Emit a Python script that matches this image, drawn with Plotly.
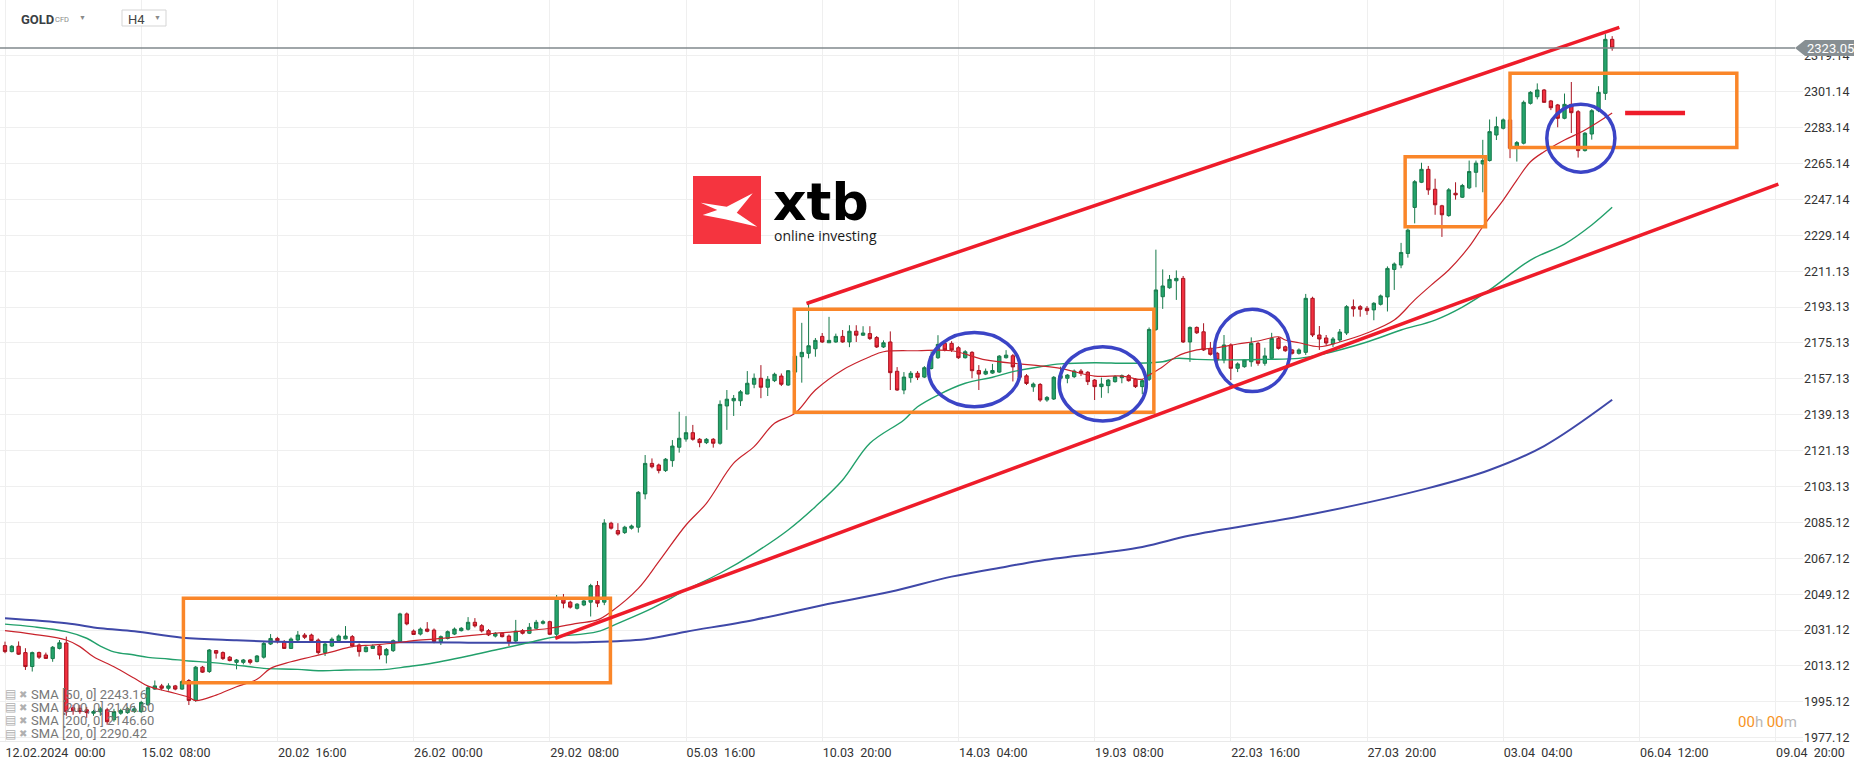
import plotly.graph_objects as go

# ---------------- data (H4 candles, GOLD CFD) ----------------
opens = [2023.3,2020.3,2023.0,2019.8,2012.8,2019.8,2018.6,2016.8,2021.9,2024.6,
         1992.1,1991.9,1991.1,1989.4,1990.1,1991.1,1986.1,1989.4,1989.7,1990.2,
         1990.2,1993.6,2001.5,2003.1,2001.9,2003.1,2001.5,2005.8,1995.8,2012.5,
         2010.3,2020.8,2019.8,2017.5,2014.9,2014.9,2016.1,2015.3,2017.5,2024.1,
         2026.9,2025.2,2021.9,2026.1,2028.6,2028.6,2026.1,2019.8,2023.1,2025.8,
         2026.7,2027.8,2023.6,2020.3,2021.9,2023.1,2018.6,2020.8,2025.3,2039.2,
         2030.6,2029.1,2031.6,2031.1,2025.3,2026.9,2029.1,2030.8,2031.5,2035.0,
         2033.3,2030.8,2028.1,2029.5,2028.1,2025.6,2030.8,2029.5,2032.0,2034.5,
         2035.3,2029.0,2046.5,2045.1,2042.0,2043.7,2045.1,2053.4,2045.1,2084.7,
         2081.0,2080.0,2082.2,2082.7,2099.4,2114.7,2113.9,2111.1,2116.1,2122.8,
         2126.9,2130.1,2126.8,2125.1,2126.8,2124.8,2143.5,2146.1,2146.1,2149.5,
         2154.4,2157.4,2152.9,2156.2,2158.5,2154.0,2160.5,2168.2,2169.9,2172.2,
         2178.4,2175.2,2175.6,2178.4,2175.6,2181.0,2179.0,2179.8,2177.8,2173.1,
         2175.6,2160.9,2151.5,2157.7,2159.9,2158.0,2162.3,2167.7,2174.9,2174.9,
         2172.7,2167.7,2170.4,2161.3,2159.5,2160.0,2160.5,2167.7,2168.7,2164.1,
         2158.6,2153.1,2154.3,2146.5,2147.0,2157.4,2157.4,2158.2,2161.0,2160.4,
         2156.5,2153.2,2153.7,2155.7,2157.7,2158.7,2156.9,2153.2,2156.9,2181.9,
         2198.3,2202.8,2206.3,2207.5,2175.6,2182.9,2180.7,2172.4,2169.9,2166.6,
         2174.1,2162.4,2163.2,2165.7,2174.9,2164.9,2167.4,2177.4,2173.2,2171.6,
         2169.9,2170.4,2197.5,2179.1,2177.6,2174.6,2176.6,2180.1,2193.3,2193.3,
         2192.5,2191.7,2194.5,2198.2,2212.0,2214.2,2220.0,2243.1,2255.7,2262.2,
         2252.2,2243.9,2239.0,2250.2,2248.2,2252.9,2260.7,2264.9,2266.6,2279.4,
         2282.8,2287.0,2272.8,2275.3,2295.3,2298.6,2302.0,2296.5,2294.5,2287.8,
         2294.8,2291.1,2271.6,2279.9,2291.6,2300.3,2327.4]
highs = [2025.3,2023.6,2025.4,2022.0,2020.3,2020.3,2019.8,2023.1,2026.1,2027.8,
         1993.6,1993.6,1992.6,1991.1,1992.6,1992.1,1991.6,1991.6,1992.6,1993.1,
         1995.6,2003.1,2005.8,2004.1,2004.4,2003.6,2006.1,2006.5,2013.1,2013.1,
         2021.6,2021.1,2020.4,2018.1,2016.6,2016.6,2016.6,2018.6,2025.1,2029.1,
         2027.7,2026.1,2027.4,2030.6,2029.6,2029.3,2026.9,2024.9,2027.4,2028.9,
         2033.1,2028.6,2024.4,2023.1,2023.9,2023.9,2022.1,2026.4,2039.8,2039.9,
         2031.4,2032.4,2035.1,2031.9,2028.4,2030.9,2032.4,2032.6,2037.6,2037.1,
         2034.1,2031.6,2030.1,2030.1,2028.9,2036.2,2031.6,2034.6,2036.2,2036.2,
         2035.8,2048.7,2049.2,2045.8,2044.6,2046.4,2054.3,2055.7,2086.7,2085.4,
         2084.7,2083.4,2084.0,2100.8,2118.9,2117.2,2114.6,2117.4,2126.4,2140.6,
         2138.4,2134.0,2127.4,2127.4,2127.4,2146.3,2151.5,2149.0,2151.5,2161.0,
         2159.8,2164.0,2158.5,2160.2,2159.8,2161.5,2169.5,2185.2,2194.9,2177.6,
         2180.1,2188.2,2179.8,2181.6,2184.0,2184.0,2183.5,2183.5,2178.6,2176.4,
         2180.9,2163.0,2160.5,2161.0,2161.0,2163.5,2170.9,2179.0,2176.5,2176.0,
         2173.5,2171.5,2171.0,2164.0,2162.3,2164.6,2169.0,2171.5,2169.6,2164.8,
         2159.5,2155.3,2155.0,2148.5,2158.5,2163.2,2159.5,2161.8,2162.0,2161.0,
         2157.0,2157.7,2157.0,2159.0,2159.3,2159.4,2157.5,2157.0,2182.9,2221.9,
         2212.0,2209.2,2211.5,2208.7,2183.4,2183.4,2185.0,2175.6,2170.6,2179.1,
         2174.9,2165.4,2166.9,2177.9,2175.6,2172.7,2180.2,2178.1,2173.8,2172.1,
         2172.4,2199.7,2198.3,2183.6,2179.1,2178.1,2182.1,2194.1,2196.9,2194.1,
         2193.6,2195.6,2199.4,2213.5,2215.5,2225.3,2232.5,2256.8,2265.5,2263.9,
         2257.5,2244.4,2252.8,2255.7,2254.9,2266.6,2266.6,2277.0,2287.2,2288.6,
         2287.7,2287.7,2276.4,2296.7,2301.4,2305.3,2302.5,2297.0,2295.0,2300.2,
         2306.0,2291.9,2280.9,2292.4,2303.9,2330.0,2329.0]
lows = [2019.5,2019.9,2018.6,2011.1,2010.3,2016.6,2016.6,2015.2,2021.4,1988.1,
        1988.6,1989.1,1987.1,1988.1,1988.1,1983.6,1985.1,1988.6,1989.1,1989.6,
        1989.6,1993.1,2001.1,2000.9,2000.7,2000.9,2001.1,1993.5,1995.1,2009.6,
        2009.6,2016.8,2016.1,2015.4,2011.4,2013.9,2013.9,2014.9,2016.8,2023.6,
        2024.4,2021.6,2021.6,2025.6,2026.6,2024.9,2018.9,2018.1,2022.6,2025.4,
        2026.4,2022.5,2017.8,2019.9,2021.6,2016.4,2014.4,2020.1,2024.6,2033.5,
        2028.8,2028.4,2030.0,2024.5,2023.6,2026.4,2028.6,2030.4,2030.9,2032.4,
        2029.9,2028.1,2027.4,2027.4,2023.1,2025.1,2028.9,2029.1,2031.5,2033.9,
        2028.6,2028.1,2042.0,2041.9,2041.4,2043.1,2037.9,2042.6,2043.6,2081.5,
        2078.5,2079.3,2081.5,2080.0,2096.7,2112.2,2109.7,2110.4,2113.0,2120.1,
        2125.6,2126.1,2122.8,2124.4,2122.6,2124.1,2131.5,2138.5,2143.5,2149.4,
        2152.4,2147.4,2148.5,2155.5,2153.5,2153.6,2156.5,2155.2,2167.4,2168.2,
        2175.1,2175.1,2175.2,2175.2,2173.0,2175.6,2178.6,2176.6,2172.6,2172.6,
        2151.5,2151.1,2149.4,2155.2,2156.5,2157.5,2161.8,2167.1,2170.9,2170.6,
        2167.1,2167.3,2157.4,2151.5,2159.0,2159.6,2160.1,2167.3,2155.8,2157.3,
        2154.0,2150.6,2145.6,2145.6,2146.5,2156.5,2154.9,2157.5,2158.5,2154.0,
        2146.5,2147.6,2149.9,2155.2,2154.9,2155.7,2152.5,2149.4,2156.0,2181.1,
        2192.2,2202.3,2196.7,2175.1,2165.6,2179.6,2171.1,2168.8,2162.4,2164.9,
        2156.5,2160.5,2162.7,2163.2,2163.7,2163.7,2166.8,2171.8,2170.7,2169.3,
        2169.3,2169.1,2178.1,2171.6,2174.1,2173.1,2175.6,2179.1,2188.3,2188.3,
        2189.2,2186.5,2193.9,2190.9,2201.7,2212.6,2217.9,2235.1,2255.3,2249.4,
        2239.4,2228.3,2238.4,2247.0,2247.8,2252.3,2253.2,2250.7,2266.1,2276.9,
        2282.2,2267.8,2266.1,2274.7,2294.7,2297.3,2295.7,2291.9,2283.3,2287.3,
        2280.4,2268.1,2271.1,2277.1,2290.9,2297.0,2321.7]
closes = [2020.3,2023.0,2019.0,2012.8,2019.8,2017.5,2016.9,2022.5,2024.7,1990.1,
          1990.6,1990.2,1989.7,1990.2,1991.6,1985.1,1990.2,1990.7,1991.6,1991.6,
          1994.8,2002.2,2003.1,2001.9,2003.1,2001.5,2005.3,1995.8,2012.5,2010.0,
          2021.1,2019.5,2016.8,2015.8,2016.1,2016.1,2014.9,2018.1,2024.4,2026.9,
          2025.8,2021.9,2026.6,2028.6,2027.5,2025.8,2019.8,2024.1,2026.5,2028.1,
          2028.1,2023.1,2020.3,2022.5,2023.1,2018.6,2021.4,2025.8,2039.2,2034.2,
          2028.9,2031.6,2030.5,2025.3,2027.8,2030.3,2031.6,2032.0,2035.0,2033.2,
          2030.7,2028.7,2029.5,2027.8,2025.3,2030.6,2029.5,2032.5,2035.0,2035.3,
          2029.0,2047.0,2044.6,2042.6,2044.1,2045.7,2053.4,2044.6,2084.8,2082.2,
          2079.3,2082.7,2083.3,2100.2,2114.7,2113.0,2111.1,2116.8,2123.4,2127.3,
          2130.1,2126.8,2125.1,2126.8,2124.8,2144.3,2146.9,2147.3,2150.6,2154.9,
          2157.4,2152.9,2156.9,2159.4,2154.4,2161.2,2168.5,2170.4,2173.7,2176.4,
          2175.6,2176.4,2178.4,2175.6,2181.0,2179.0,2180.1,2177.3,2173.1,2175.2,
          2160.2,2151.5,2158.0,2159.9,2157.9,2162.7,2168.2,2174.4,2171.6,2171.6,
          2167.7,2170.7,2161.2,2159.5,2160.9,2161.3,2168.5,2169.0,2163.1,2157.9,
          2154.8,2154.5,2146.5,2147.8,2157.9,2158.7,2159.0,2161.0,2159.9,2155.7,
          2153.2,2154.5,2156.5,2158.2,2158.7,2156.2,2153.2,2156.2,2181.9,2201.7,
          2203.7,2207.0,2207.5,2175.6,2182.9,2180.2,2171.6,2169.4,2166.6,2174.1,
          2162.4,2164.6,2166.6,2174.9,2164.9,2168.6,2177.4,2172.4,2171.2,2169.9,
          2171.6,2197.5,2179.1,2177.1,2175.1,2177.1,2180.6,2193.3,2192.2,2192.0,
          2191.3,2195.0,2198.7,2212.5,2214.7,2220.5,2231.7,2256.0,2262.2,2251.9,
          2244.4,2239.4,2251.9,2249.4,2254.1,2261.1,2265.3,2266.6,2281.1,2283.6,
          2287.0,2272.8,2275.6,2295.8,2300.8,2302.0,2295.8,2293.1,2287.8,2294.8,
          2290.6,2271.6,2280.3,2291.6,2300.8,2327.4,2323.05]
candle_idx = list(range(len(opens)))

sma20_x = [0,4,9,11,13,16,19,21,24,27,28,31,34,37,39,42,45,48,51,54,57,60,63,66,69,72,75,80,84,87,
           89,93,96,100,103,107,110,113,116,119,123,127,129,134,139,144,149,152,155,160,164,167,168,170,
           172,175,178,181,184,187,188,190,193,196,200,204,207,210,212,215,217,220,222,224,226,229,232,236]
sma20_y = [2030.8,2029.1,2026.1,2022.8,2017.7,2012.7,2006.9,2003.0,2000.2,1997.4,1995.7,1998.5,2002.7,
           2006.4,2011.9,2015.2,2017.7,2020.2,2022.8,2023.6,2024.5,2025.8,2026.6,2027.5,2028.6,2029.5,
           2030.3,2032.0,2034.5,2036.2,2040.3,2052.0,2065.4,2083.8,2094.7,2114.8,2123.1,2134.8,2139.8,
           2151.5,2161.6,2168.2,2170.7,2171.2,2171.2,2166.6,2164.6,2163.6,2162.4,2158.5,2158.5,2156.9,
           2159.0,2163.2,2168.2,2171.6,2172.7,2174.6,2176.1,2178.2,2176.6,2175.2,2173.2,2175.6,2180.1,
           2186.6,2196.7,2205.8,2211.7,2223.4,2233.4,2246.8,2256.8,2266.0,2271.0,2276.9,2281.9,2290.42]

sma50_x = [0,4,9,12,14,16,19,21,24,27,30,33,36,38,43,46,50,56,59,62,68,72,76,79,81,87,90,95,100,105,
           110,115,119,123,127,132,134,137,141,145,148,152,155,160,165,170,172,175,180,185,190,193,200,
           205,210,214,218,224,229,233,236]
sma50_y = [2034.1,2032.8,2030.3,2027.0,2023.1,2020.2,2018.6,2017.4,2016.6,2015.6,2014.9,2013.9,2012.7,
           2011.9,2011.4,2010.7,2011.1,2011.4,2012.7,2014.1,2018.1,2021.1,2024.1,2026.5,2027.8,2030.3,
           2034.5,2042.0,2051.2,2059.6,2069.6,2081.3,2093.0,2106.4,2124.8,2136.5,2143.1,2149.0,2154.9,
           2157.9,2160.7,2163.2,2164.6,2165.2,2164.9,2165.7,2167.4,2166.9,2166.6,2166.9,2167.4,2169.1,
           2175.6,2181.6,2186.6,2193.1,2201.7,2216.7,2224.7,2234.3,2243.16]

sma200_x = [0,9,14,19,26,34,40,58,68,76,85,94,100,110,120,130,139,147,152,167,174,192,209,218,226,236]
sma200_y = [2037.0,2034.5,2032.0,2030.5,2027.3,2026.0,2025.3,2025.0,2024.8,2024.8,2025.0,2026.5,2030.3,
            2036.2,2043.6,2050.3,2057.9,2062.9,2065.9,2072.8,2078.5,2089.3,2102.3,2111.4,2123.4,2146.6]

x_tick_idx = [0,20,40,60,80,100,120,140,160,180,200,220,240,260]
x_tick_text = ["12.02.2024\u00a0\u00a000:00","15.02\u00a0\u00a008:00","20.02\u00a0\u00a016:00",
               "26.02\u00a0\u00a000:00","29.02\u00a0\u00a008:00","05.03\u00a0\u00a016:00",
               "10.03\u00a0\u00a020:00","14.03\u00a0\u00a004:00","19.03\u00a0\u00a008:00",
               "22.03\u00a0\u00a016:00","27.03\u00a0\u00a020:00","03.04\u00a0\u00a004:00",
               "06.04\u00a0\u00a012:00","09.04\u00a0\u00a020:00"]
y_tick_text = ["1977.12","1995.12","2013.12","2031.12","2049.12","2067.12","2085.12","2103.13",
               "2121.13","2139.13","2157.13","2175.13","2193.13","2211.13","2229.14","2247.14",
               "2265.14","2283.14","2301.14","2319.14"]
y_tick_vals = [float(t) for t in y_tick_text]

last_price = 2323.05
legend_lines = ["SMA [50, 0] 2243.16", "SMA [200, 0] 2146.60", "SMA [200, 0] 2146.60", "SMA [20, 0] 2290.42"]

# drawn analysis (in chart units: candle index, price)
trend_lines = [(117.7, 2194.9, 237.05, 2333.4), (80.8, 2026.9, 260.4, 2254.8)]
level_mark = (237.9, 246.7, 2290.4)
boxes = [(26.2, 88.9, 2004.7, 2047.0), (115.9, 168.7, 2140.3, 2192.0),
         (205.6, 217.4, 2233.4, 2268.5), (221.0, 254.3, 2273.1, 2310.4)]
ellipses = [(135.6, 149.1, 2143.1, 2180.3), (154.8, 167.6, 2136.0, 2173.2),
            (177.6, 188.7, 2150.7, 2192.0), (226.4, 236.4, 2260.7, 2294.8)]

# ---------------- layout geometry ----------------
W, H = 1866, 767
ML, MR, MT, MB = 0, 63, 0, 26
PW, PH = W - ML - MR, H - MT - MB
X_RANGE = [-0.734, 264.02]
Y_RANGE = [1975.46, 2347.13]

def px(x):
    return (x - ML) / PW

def py(y):
    return 1 - (y - MT) / PH

FONT = "Roboto, Arial, sans-serif"

fig = go.Figure()
fig.add_trace(go.Candlestick(
    x=candle_idx, open=opens, high=highs, low=lows, close=closes,
    increasing=dict(fillcolor="#25a46c", line=dict(color="#177a4b", width=1)),
    decreasing=dict(fillcolor="#f2303f", line=dict(color="#a8121f", width=1)),
    whiskerwidth=0, showlegend=False, hoverinfo="skip"))
fig.add_trace(go.Scatter(x=sma200_x, y=sma200_y, mode="lines", line=dict(color="#3f48a8", width=2),
                         line_shape="spline", showlegend=False, hoverinfo="skip"))
fig.add_trace(go.Scatter(x=sma50_x, y=sma50_y, mode="lines", line=dict(color="#22a06b", width=1.4),
                         line_shape="spline", showlegend=False, hoverinfo="skip"))
fig.add_trace(go.Scatter(x=sma20_x, y=sma20_y, mode="lines", line=dict(color="#c8232c", width=1.2),
                         line_shape="spline", showlegend=False, hoverinfo="skip"))

shapes = []
ORANGE = "#fa8629"
RED = "#ee1c2a"
BLUE = "#3b44c6"
for (x0, x1, y0, y1) in boxes:
    shapes.append(dict(type="rect", xref="x", yref="y", x0=x0, x1=x1, y0=y0, y1=y1,
                       line=dict(color=ORANGE, width=3.5), layer="above"))
for (x0, x1, y0, y1) in ellipses:
    shapes.append(dict(type="circle", xref="x", yref="y", x0=x0, x1=x1, y0=y0, y1=y1,
                       line=dict(color=BLUE, width=3.5), layer="above"))
for (x0, y0, x1, y1) in trend_lines:
    shapes.append(dict(type="line", xref="x", yref="y", x0=x0, y0=y0, x1=x1, y1=y1,
                       line=dict(color=RED, width=3.5), layer="above"))
shapes.append(dict(type="line", xref="x", yref="y", x0=level_mark[0], x1=level_mark[1],
                   y0=level_mark[2], y1=level_mark[2], line=dict(color=RED, width=4.5), layer="above"))

# last price line and label
shapes.append(dict(type="line", xref="paper", yref="y", x0=0, x1=px(1795), y0=last_price, y1=last_price,
                   line=dict(color="#80888c", width=1.3), layer="above"))
ly = (Y_RANGE[1] - last_price) / (Y_RANGE[1] - Y_RANGE[0]) * PH
shapes.append(dict(type="path", xref="paper", yref="paper",
                   path=f"M {px(1795)},{py(ly)} L {px(1805)},{py(ly-8)} L {px(1854)},{py(ly-8)} "
                        f"L {px(1854)},{py(ly+8)} L {px(1805)},{py(ly+8)} Z",
                   fillcolor="#878f93", line=dict(width=0), layer="above"))

# logo
shapes.append(dict(type="rect", xref="paper", yref="paper", x0=px(693), x1=px(761), y0=py(244), y1=py(176),
                   fillcolor="#f5343f", line=dict(width=0), layer="above"))
logo_pts = [(700.7, 202.7), (726.7, 206.7), (752.7, 193.3), (736.7, 212.7), (757.3, 226.7),
            (725.0, 219.3), (702.7, 215.0), (717.3, 210.0)]
path = "M " + " L ".join(f"{px(a)},{py(b)}" for a, b in logo_pts) + " Z"
shapes.append(dict(type="path", xref="paper", yref="paper", path=path, fillcolor="white",
                   line=dict(width=0), layer="above"))
# H4 box
shapes.append(dict(type="rect", xref="paper", yref="paper", x0=px(122), x1=px(166), y0=py(26), y1=py(10),
                   fillcolor="white", line=dict(color="#d5d5d5", width=1), layer="above"))

ann = []
def text(x, y, s, size, color, anchor="left", bold=False, family=FONT):
    ann.append(dict(xref="paper", yref="paper", x=px(x), y=py(y), text=s, showarrow=False,
                    xanchor=anchor, yanchor="middle",
                    font=dict(size=size, color=color, family=family, weight="bold" if bold else "normal")))

text(1856, ly, "2323.05", 13, "white", anchor="right")
text(19, 19.5, "GOLD", 13, "#3a3f44", bold=True)
text(53, 19.5, "CFD", 7.5, "#8a8a8a")
text(77, 18, "\u25BC", 7, "#8a8a8a")
text(126, 19.5, "H4", 13, "#444444")
text(152, 17.5, "\u25BC", 7, "#8a8a8a")
text(771, 202, "xtb", 52, "#000000", bold=True, family="DejaVu Sans, Arial, sans-serif")
text(772, 235, "online investing", 14, "#1a1a1a", family="Open Sans, Roboto, sans-serif")
for k, line in enumerate(legend_lines):
    yy = 694 + 13.2 * k
    text(3, yy, "\u25A4", 12, "#b0b0b0")
    text(17, yy, "\u2716", 10, "#b0b0b0")
    text(29, yy, line, 13, "#777777")
text(1736, 722, "<span style='color:#f7931e'>00</span>h <span style='color:#f7931e'>00</span>m",
     15, "#b8b8b8")

fig.update_layout(
    width=W, height=H, margin=dict(l=ML, r=MR, t=MT, b=MB),
    paper_bgcolor="white", plot_bgcolor="white",
    shapes=shapes, annotations=ann, showlegend=False,
    font=dict(family=FONT, color="#333333"),
    xaxis=dict(range=X_RANGE, tickvals=x_tick_idx, ticktext=x_tick_text, ticklabelposition="outside right",
               showgrid=True, gridcolor="#efefef", gridwidth=1, zeroline=False,
               showline=True, linecolor="#e9e9e9", ticks="", rangeslider=dict(visible=False),
               tickfont=dict(size=12.5, color="#333333", family=FONT)),
    yaxis=dict(range=Y_RANGE, side="right", tickvals=y_tick_vals, ticktext=y_tick_text,
               showgrid=True, gridcolor="#efefef", gridwidth=1, zeroline=False, ticks="",
               tickfont=dict(size=12.5, color="#333333", family=FONT)),
)

fig.write_html("out.html", config={"displayModeBar": False},
               post_script="document.body.style.margin='0px';document.body.style.overflow='hidden';")
